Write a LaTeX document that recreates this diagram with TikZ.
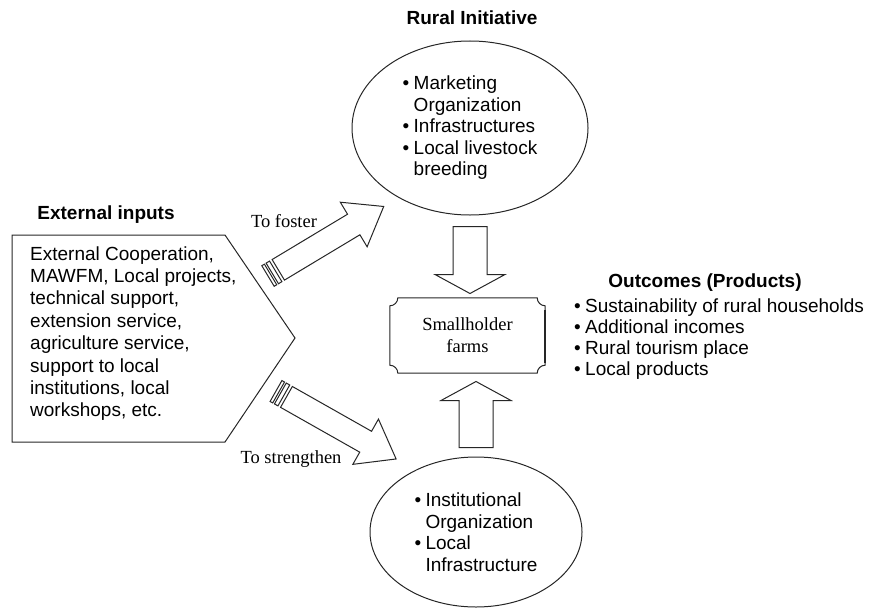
\documentclass[tikz,border=0pt]{standalone}
\usepackage{fontspec}
\setmainfont{Liberation Sans}
\newfontfamily\serifface{Liberation Serif}
\usetikzlibrary{shapes.geometric}

\newcommand{\bul}[1]{\makebox[11pt][l]{\textbullet}#1}
\newcommand{\cont}[1]{\hspace*{11pt}#1}

\tikzset{
  outline/.style={draw=black!85, line width=1pt},
  heading/.style={font=\fontsize{19}{22}\selectfont\bfseries, inner sep=0pt},
  listtext/.style={font=\fontsize{19}{21.5}\selectfont, align=left, inner sep=0pt},
  seriflabel/.style={font=\serifface\fontsize{18.5}{22}\selectfont, inner sep=0pt},
  oval/.style={ellipse, outline},
  stripedarrow/.pic={
    \draw[outline, fill=white] (0,-12) rectangle (3,12);
    \draw[outline, fill=white] (5,-12) rectangle (9,12);
    \draw[outline, fill=white] (12,-12) -- ({#1-35},-12) -- ({#1-35},-26) -- (#1,0)
      -- ({#1-35},26) -- ({#1-35},12) -- (12,12) -- cycle;
  },
  blockarrow/.pic={
    \draw[outline, fill=white] (0,-17) -- ({#1-19},-17) -- ({#1-19},-35) -- (#1,0)
      -- ({#1-19},35) -- ({#1-19},17) -- (0,17) -- cycle;
  }
}

\begin{document}
\begin{tikzpicture}[x=1pt, y=1pt]
  \useasboundingbox (0,0) rectangle (874,-610);

  % headings
  \node[heading] (ruralhead) at (472,-18) {Rural Initiative};
  \node[heading] (exthead) at (106,-215) {External inputs};
  \node[heading] (outhead) at (705,-283) {Outcomes (Products)};

  % external inputs
  \draw[outline] (12,-235) -- (225,-235) -- (295,-338) -- (225,-442) -- (12,-442) -- cycle;
  \node[listtext, font=\fontsize{19}{22.4}\selectfont, anchor=west] (extinputs) at (30,-333.5)
    {External Cooperation,\\ MAWFM, Local projects,\\ technical support,\\ extension service,\\
     agriculture service,\\ support to local\\ institutions, local\\ workshops, etc.};

  % rural initiative and institutions
  \node[oval, listtext, minimum width=236pt, minimum height=174pt] (rural) at (470,-128)
    {\bul{Marketing}\\ \cont{Organization}\\ \bul{Infrastructures}\\ \bul{Local livestock}\\ \cont{breeding}};
  \node[oval, listtext, minimum width=212pt, minimum height=150pt] (institutions) at (476,-532)
    {\bul{Institutional}\\ \cont{Organization}\\ \bul{Local}\\ \cont{Infrastructure}};

  % smallholder farms
  \node[seriflabel, align=center, minimum width=155pt, minimum height=75pt] (farms) at (467.5,-335.5)
    {Smallholder\\ farms};
  \draw[outline] ([xshift=8pt]farms.north west) -- ([xshift=-8pt]farms.north east)
    arc[start angle=180, end angle=270, radius=8pt] -- ([yshift=8pt]farms.south east)
    arc[start angle=90, end angle=180, radius=8pt] -- ([xshift=8pt]farms.south west)
    arc[start angle=0, end angle=90, radius=8pt] -- ([yshift=-8pt]farms.north west)
    arc[start angle=270, end angle=360, radius=8pt] -- cycle;
  \draw[outline, line width=1.8pt] ([yshift=-12pt]farms.north east) -- ([yshift=10pt]farms.south east);

  % outcomes
  \node[listtext, font=\fontsize{19}{21}\selectfont, anchor=west] (outcomes) at (574,-339.5)
    {\bul{Sustainability of rural households}\\ \bul{Additional incomes}\\ \bul{Rural tourism place}\\ \bul{Local products}};

  % arrows
  \pic[rotate=-90] at ([yshift=-11pt]rural.south) {blockarrow=67};
  \pic[rotate=90] at ([yshift=9pt]institutions.north) {blockarrow=66};
  \coordinate (fostertail) at (268,-276);
  \coordinate (strengthentail) at (276,-391);
  \pic[rotate=31] at (fostertail) {stripedarrow=135};
  \pic[rotate=-29.5] at (strengthentail) {stripedarrow=138};
  \node[seriflabel] (fosterlabel) at (284,-221) {To foster};
  \node[seriflabel] (strengthenlabel) at (291,-459) {To strengthen};
\end{tikzpicture}
\end{document}
